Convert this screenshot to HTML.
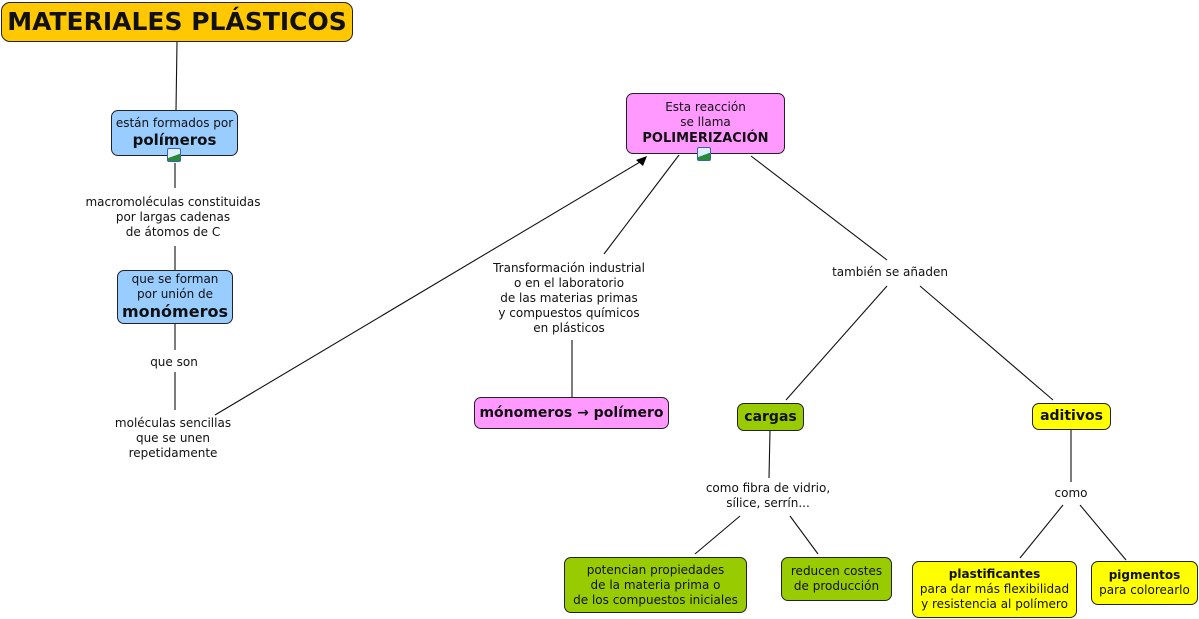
<!DOCTYPE html>
<html><head><meta charset="utf-8"><style>
body{margin:0;width:1199px;height:619px;background:#fff;position:relative;overflow:hidden;font-family:"DejaVu Sans",Verdana,sans-serif;color:#111}
.b{position:absolute;box-sizing:border-box;border:1px solid #222;border-radius:7px;text-align:center;display:flex;flex-direction:column;justify-content:center;font-size:12px;line-height:15px}
.t{position:absolute;text-align:center;font-size:12px;line-height:15px;transform:translateX(-50%);white-space:nowrap;background:#fff}
.ic{position:absolute;width:14px;height:14px;border:1px solid #3366aa;background:linear-gradient(160deg,#dfefff 55%,#2a8a3a 56%);box-sizing:border-box;border-radius:2px}
svg{position:absolute;left:0;top:0}
</style></head><body>
<svg width="1199" height="619">
<g stroke="#111" stroke-width="1.1" fill="none">
<line x1="177" y1="42" x2="176" y2="110"/>
<line x1="175" y1="163" x2="175" y2="188"/>
<line x1="175" y1="246" x2="175" y2="270"/>
<line x1="175" y1="323" x2="175" y2="350"/>
<line x1="175" y1="372" x2="175" y2="410"/>
<line x1="215" y1="415" x2="640" y2="162"/>
<line x1="679" y1="155" x2="604" y2="254"/>
<line x1="572" y1="340" x2="572" y2="397"/>
<line x1="751" y1="156" x2="887" y2="260"/>
<line x1="887" y1="286" x2="786" y2="400"/>
<line x1="920" y1="286" x2="1053" y2="400"/>
<line x1="770" y1="430" x2="769" y2="478"/>
<line x1="740" y1="516" x2="695" y2="554"/>
<line x1="790" y1="516" x2="818" y2="554"/>
<line x1="1071" y1="430" x2="1071" y2="482"/>
<line x1="1063" y1="505" x2="1020" y2="558"/>
<line x1="1080" y1="505" x2="1126" y2="560"/>
</g>
<polygon points="647,156 636,160 643,166" fill="#000"/>
</svg>
<div class="b" style="left:1px;top:2px;width:352px;height:40px;background:#ffc800;font-weight:bold;font-size:25px;line-height:30px;border-radius:9px">MATERIALES PLÁSTICOS</div>
<div class="b" style="left:111px;top:110px;width:127px;height:46px;background:#99ccff"><div>están formados por</div><div style="font-weight:bold;font-size:15px;line-height:19px">polímeros</div></div>
<div class="ic" style="left:167px;top:148px"></div>
<div class="t" style="left:173px;top:195px">macromoléculas constituidas<br>por largas cadenas<br>de átomos de C</div>
<div class="b" style="left:117px;top:270px;width:116px;height:54px;background:#99ccff"><div>que se forman<br>por unión de</div><div style="font-weight:bold;font-size:16px;line-height:20px">monómeros</div></div>
<div class="t" style="left:174px;top:355px">que son</div>
<div class="t" style="left:173px;top:416px">moléculas sencillas<br>que se unen<br>repetidamente</div>
<div class="b" style="left:626px;top:93px;width:159px;height:61px;background:#ff99ff"><div>Esta reacción<br>se llama</div><div style="font-weight:bold;font-size:13px;line-height:17px">POLIMERIZACIÓN</div></div>
<div class="ic" style="left:697px;top:147px"></div>
<div class="t" style="left:569px;top:261px">Transformación industrial<br>o en el laboratorio<br>de las materias primas<br>y compuestos químicos<br>en plásticos</div>
<div class="b" style="left:474px;top:397px;width:195px;height:32px;background:#ff99ff;font-weight:bold;font-size:14px">mónomeros → polímero</div>
<div class="t" style="left:890px;top:265px">también se añaden</div>
<div class="b" style="left:737px;top:403px;width:67px;height:28px;background:#99cc00;font-weight:bold;font-size:14px">cargas</div>
<div class="b" style="left:1032px;top:403px;width:79px;height:27px;background:#ffff00;font-weight:bold;font-size:14px">aditivos</div>
<div class="t" style="left:768px;top:481px">como fibra de vidrio,<br>sílice, serrín...</div>
<div class="t" style="left:1071px;top:486px">como</div>
<div class="b" style="left:564px;top:557px;width:183px;height:56px;background:#99cc00">potencian propiedades<br>de la materia prima o<br>de los compuestos iniciales</div>
<div class="b" style="left:781px;top:557px;width:111px;height:44px;background:#99cc00">reducen costes<br>de producción</div>
<div class="b" style="left:912px;top:561px;width:165px;height:57px;background:#ffff00"><b>plastificantes</b>para dar más flexibilidad<br>y resistencia al polímero</div>
<div class="b" style="left:1091px;top:561px;width:107px;height:44px;background:#ffff00"><b>pigmentos</b>para colorearlo</div>
</body></html>
